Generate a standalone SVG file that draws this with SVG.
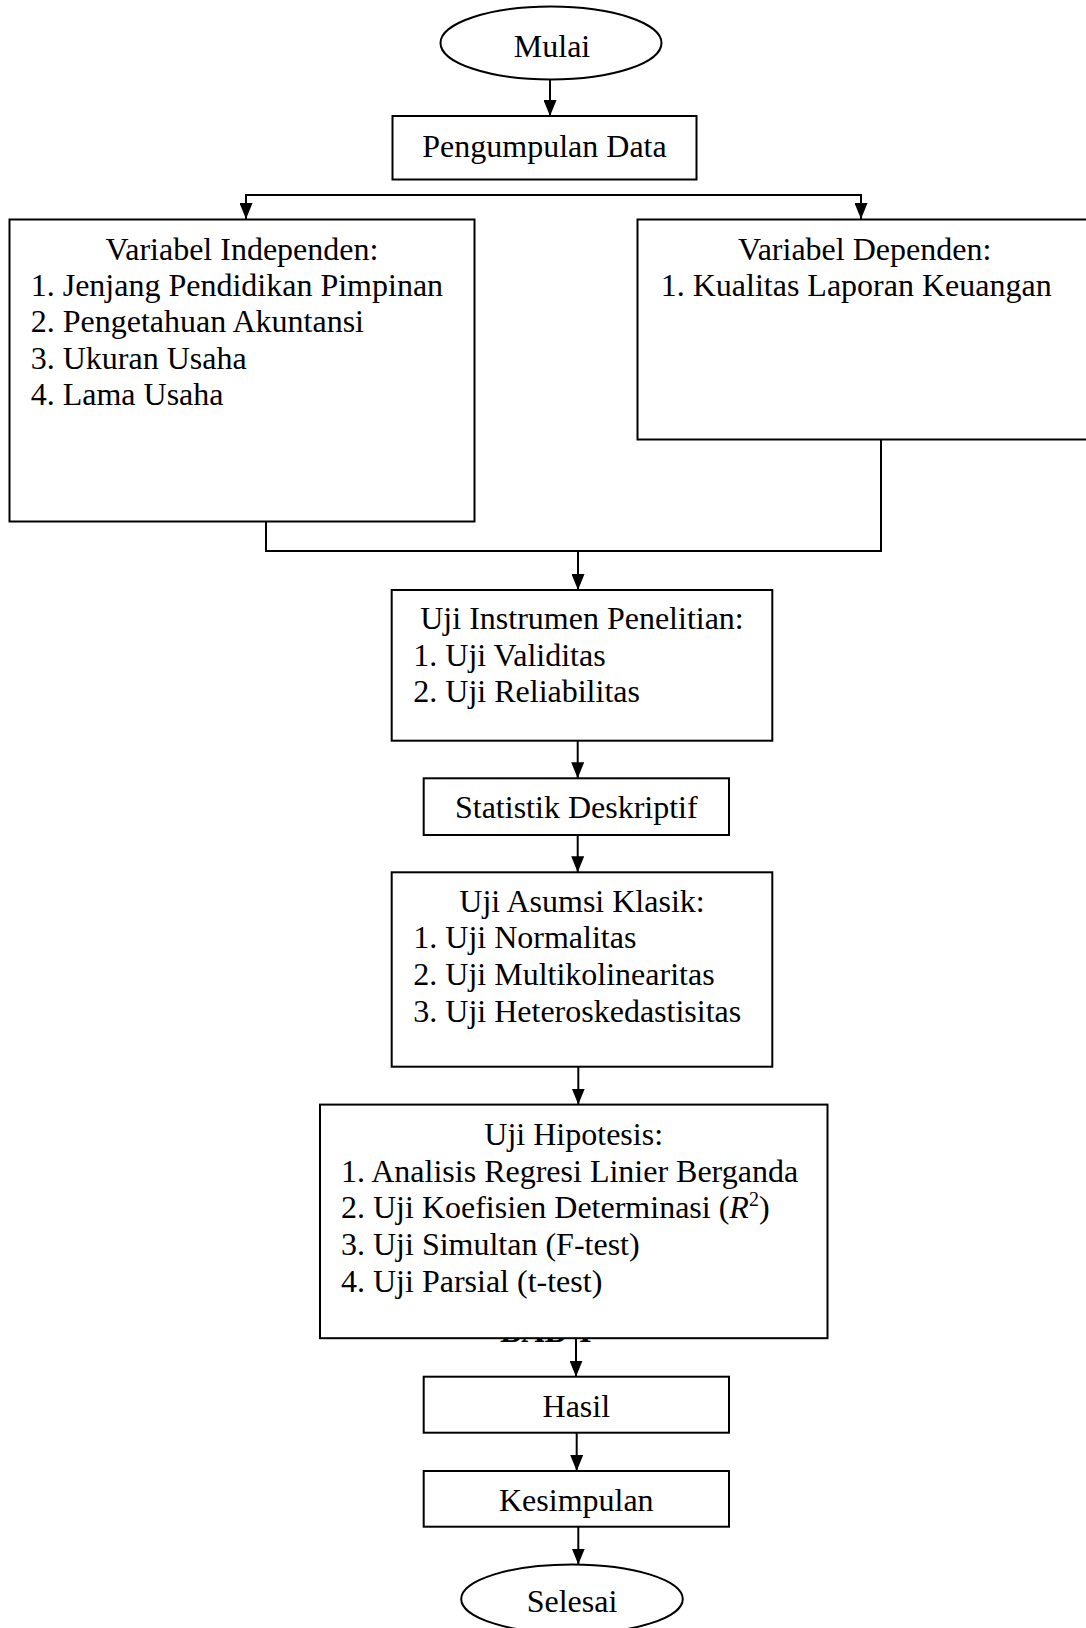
<svg xmlns="http://www.w3.org/2000/svg" width="1086" height="1628" viewBox="0 0 1086 1628">
<style>
text { font-family: "Liberation Serif", "Times New Roman", serif; font-size: 32px; fill: #000; }
.c { text-anchor: middle; }
.box { fill: #fff; stroke: #000; stroke-width: 2; }
.ln { fill: none; stroke: #000; stroke-width: 2; }
.arr { fill: none; stroke: #000; stroke-width: 2; marker-end: url(#ah); }
.bold { font-weight: bold; }
</style>
<defs>
<marker id="ah" viewBox="0 0 16 13" refX="16" refY="6.5" markerWidth="16" markerHeight="13" markerUnits="userSpaceOnUse" orient="auto-start-reverse">
<path d="M0,0 L16,6.5 L0,13 z" fill="#000"/>
</marker>
</defs>
<rect width="1086" height="1628" fill="#fff"/>

<g id="artifact-bab">
<text class="bold" x="500" y="1342">BAB<tspan x="579">I</tspan></text>
</g>

<g id="connectors">
<path class="arr" d="M550,79.5 V116"/>
<path class="ln" d="M246,219 V195 H861 V219" marker-start="url(#ah)" marker-end="url(#ah)"/>
<path class="ln" d="M266,521.5 V551 H881 V439.5"/>
<path class="arr" d="M578,551 V590"/>
<path class="arr" d="M577.7,740.7 V778.3"/>
<path class="arr" d="M577.7,835 V872.3"/>
<path class="arr" d="M578.3,1066.7 V1104.6"/>
<path class="arr" d="M576,1338.2 V1376.7"/>
<path class="arr" d="M576.7,1432.7 V1471"/>
<path class="arr" d="M578.3,1526.7 V1564.6"/>
</g>

<g id="mulai">
<ellipse class="box" cx="551" cy="43" rx="110.5" ry="36.5"/>
<text class="c" x="552" y="57">Mulai</text>
</g>

<g id="pengumpulan">
<rect class="box" x="392.5" y="116" width="304" height="63.5"/>
<text class="c" x="544.5" y="157">Pengumpulan Data</text>
</g>

<g id="independen">
<rect class="box" x="9.5" y="219.5" width="465" height="302"/>
<text class="c" x="242" y="260">Variabel Independen:</text>
<text x="30.7" y="296">1. Jenjang Pendidikan Pimpinan</text>
<text x="30.7" y="332">2. Pengetahuan Akuntansi</text>
<text x="30.7" y="368.5">3. Ukuran Usaha</text>
<text x="30.7" y="405">4. Lama Usaha</text>
</g>

<g id="dependen">
<rect class="box" x="637.5" y="219.5" width="460" height="220"/>
<text class="c" x="864.7" y="259.5">Variabel Dependen:</text>
<text x="660.7" y="296">1. Kualitas Laporan Keuangan</text>
</g>

<g id="instrumen">
<rect class="box" x="391.7" y="590" width="380.6" height="150.7"/>
<text class="c" x="582" y="629.3">Uji Instrumen Penelitian:</text>
<text x="413.3" y="665.7">1. Uji Validitas</text>
<text x="413.3" y="702.3">2. Uji Reliabilitas</text>
</g>

<g id="statistik">
<rect class="box" x="423.7" y="778.3" width="305.3" height="56.7"/>
<text class="c" x="576.3" y="818.3">Statistik Deskriptif</text>
</g>

<g id="asumsi">
<rect class="box" x="391.7" y="872.3" width="380.6" height="194.4"/>
<text class="c" x="582" y="911.7">Uji Asumsi Klasik:</text>
<text x="413.3" y="948.3">1. Uji Normalitas</text>
<text x="413.3" y="985">2. Uji Multikolinearitas</text>
<text x="413.3" y="1021.7">3. Uji Heteroskedastisitas</text>
</g>

<g id="hipotesis">
<rect class="box" x="320" y="1104.6" width="507.5" height="233.6"/>
<text class="c" x="573.7" y="1145">Uji Hipotesis:</text>
<text x="341" y="1181.7">1. Analisis Regresi Linier Berganda</text>
<text x="341" y="1218.3">2. Uji Koefisien Determinasi (<tspan font-style="italic">R</tspan><tspan font-size="20" dy="-12">2</tspan><tspan dy="12">)</tspan></text>
<text x="341" y="1255">3. Uji Simultan (F-test)</text>
<text x="341" y="1291.7">4. Uji Parsial (t-test)</text>
</g>

<g id="hasil">
<rect class="box" x="423.7" y="1376.7" width="305.3" height="56"/>
<text class="c" x="576.3" y="1416.7">Hasil</text>
</g>

<g id="kesimpulan">
<rect class="box" x="423.7" y="1471" width="305.3" height="55.7"/>
<text class="c" x="576.3" y="1510.7">Kesimpulan</text>
</g>

<g id="selesai">
<ellipse class="box" cx="572" cy="1599" rx="110.8" ry="34.5"/>
<text class="c" x="572" y="1611.5">Selesai</text>
</g>
</svg>
